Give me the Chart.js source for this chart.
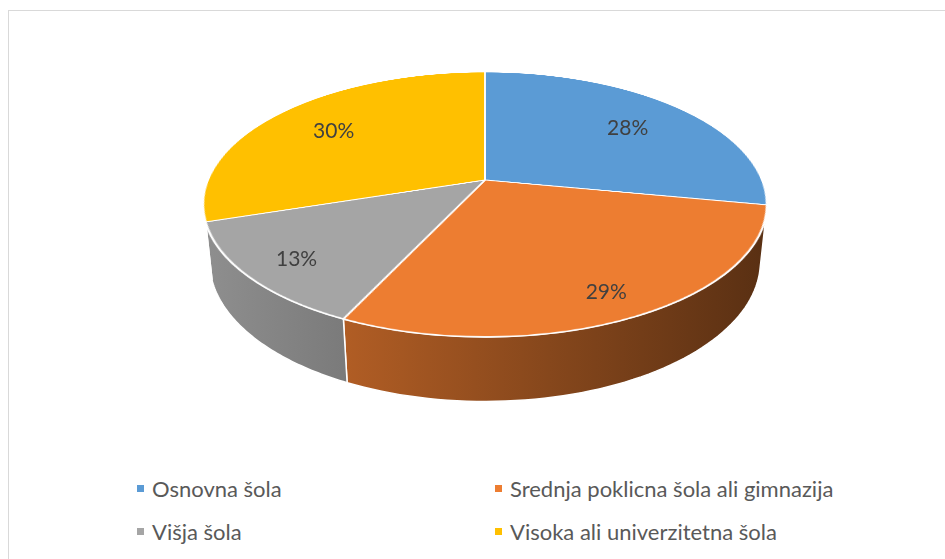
<!DOCTYPE html>
<html>
<head>
<meta charset="utf-8">
<script src="https://cdn.jsdelivr.net/npm/chart.js@4.4.1/dist/chart.umd.min.js"></script>
<style>
  html, body { margin: 0; padding: 0; background: #fff; }
  #wrap { position: relative; width: 945px; height: 559px; overflow: hidden; }
  #frame { position: absolute; left: 8px; top: 10px; width: 1000px; height: 600px;
           border: 1.5px solid #d9d9d9; box-sizing: border-box; }
  #walls { position: absolute; left: 0; top: 0; z-index: 1; }
  #pie { position: absolute; z-index: 2; }
  #labels { position: absolute; left: 0; top: 0; z-index: 3; }
  .pct { position: absolute; font: 21px Lato, sans-serif; color: #404040;
         transform: translate(-50%, -50%); white-space: nowrap; }
  .txt { position: absolute; font: 22px Lato, sans-serif; color: #595959;
         white-space: nowrap; line-height: 24px; }
  .box { position: absolute; width: 7px; height: 7px; }
</style>
</head>
<body>
<div id="wrap">
  <div id="frame"></div>
  <canvas id="walls" width="945" height="559"></canvas>
  <canvas id="pie" width="600" height="600"></canvas>
  <div id="labels"></div>
  <div id="legend"></div>
</div>
<script>
// data
const labels = ['Osnovna šola', 'Srednja poklicna šola ali gimnazija', 'Višja šola', 'Visoka ali univerzitetna šola'];
const shares = [28, 29, 13, 30];
const colors = ['#5B9BD5', '#ED7D31', '#A5A5A5', '#FFC000'];

// 3d look: page position of the pie centre, tilt, perspective and thickness
const OX = 485, OY = 180;
const TILT = 62.5, PERSP = 1330, THICK = 65;
const A = TILT * Math.PI / 180;

const chart = new Chart(document.getElementById('pie'), {
  type: 'pie',
  data: {
    labels: labels,
    datasets: [{
      data: shares,
      backgroundColor: colors,
      borderColor: '#fff',
      borderWidth: 2,
      offset: 0,
      hoverOffset: 0
    }]
  },
  options: {
    responsive: false,
    animation: false,
    events: [],
    layout: { padding: 22 },
    plugins: {
      legend: { display: false },
      tooltip: { enabled: false }
    }
  }
});

const arcs = chart.getDatasetMeta(0).data;
const R = arcs[0].outerRadius;

// tilt the canvas Chart.js drew into, around the pie centre
const pieEl = document.getElementById('pie');
pieEl.style.left = (OX - arcs[0].x) + 'px';
pieEl.style.top = (OY - arcs[0].y) + 'px';
pieEl.style.transformOrigin = arcs[0].x + 'px ' + arcs[0].y + 'px';
pieEl.style.transform = `perspective(${PERSP}px) rotateX(${TILT}deg)`;

// same projection as the css transform, for walls and labels
function project(x, y, zl) {
  const y1 = y * Math.cos(A) - zl * Math.sin(A);
  const z1 = y * Math.sin(A) + zl * Math.cos(A);
  const s = PERSP / (PERSP - z1);
  return [OX + x * s, OY + y1 * s];
}

function shade(hex, f) {
  const n = parseInt(hex.slice(1), 16);
  return `rgb(${Math.round(((n >> 16) & 255) * f)},${Math.round(((n >> 8) & 255) * f)},${Math.round((n & 255) * f)})`;
}

// side wall, only where it faces the viewer
const wctx = document.getElementById('walls').getContext('2d');
const t0 = Math.asin(Math.min(1, R / (PERSP * Math.sin(A))));
const left = project(-R, 0, 0)[0], right = project(R, 0, 0)[0];
arcs.forEach((arc, i) => {
  const s = Math.max(arc.startAngle, t0);
  const e = Math.min(arc.endAngle, Math.PI - t0);
  if (e <= s) return;
  const n = 60;
  wctx.beginPath();
  for (let k = 0; k <= n; k++) {
    const t = s + (e - s) * k / n;
    const p = project(R * Math.cos(t), R * Math.sin(t), 0);
    k === 0 ? wctx.moveTo(p[0], p[1]) : wctx.lineTo(p[0], p[1]);
  }
  for (let k = n; k >= 0; k--) {
    const t = s + (e - s) * k / n;
    const p = project(R * Math.cos(t), R * Math.sin(t), -THICK);
    wctx.lineTo(p[0], p[1]);
  }
  wctx.closePath();
  const g = wctx.createLinearGradient(left - 20, 0, right, 0);
  g.addColorStop(0, shade(colors[i], 0.88));
  g.addColorStop(1, shade(colors[i], 0.38));
  wctx.fillStyle = g;
  wctx.fill();
  wctx.strokeStyle = '#fff';
  wctx.lineWidth = 1.5;
  wctx.stroke();
});

// percentage labels
const total = shares.reduce((a, b) => a + b, 0);
const labelBox = document.getElementById('labels');
arcs.forEach((arc, i) => {
  const mid = (arc.startAngle + arc.endAngle) / 2;
  const f = 0.77 + 0.07 * Math.sin(mid);
  const p = project(f * R * Math.cos(mid), f * R * Math.sin(mid), 0);
  const d = document.createElement('div');
  d.className = 'pct';
  d.style.left = p[0] + 'px';
  d.style.top = p[1] + 'px';
  d.textContent = Math.round(shares[i] / total * 100) + '%';
  labelBox.appendChild(d);
});

// legend, two columns
const legendPos = [[137, 477], [495, 477], [137, 520], [495, 520]];
const legend = document.getElementById('legend');
labels.forEach((name, i) => {
  const b = document.createElement('div');
  b.className = 'box';
  b.style.background = colors[i];
  b.style.left = legendPos[i][0] + 'px';
  b.style.top = (legendPos[i][1] + 8) + 'px';
  legend.appendChild(b);
  const t = document.createElement('div');
  t.className = 'txt';
  t.style.left = (legendPos[i][0] + 15) + 'px';
  t.style.top = legendPos[i][1] + 'px';
  t.textContent = name;
  legend.appendChild(t);
});
</script>
</body>
</html>
